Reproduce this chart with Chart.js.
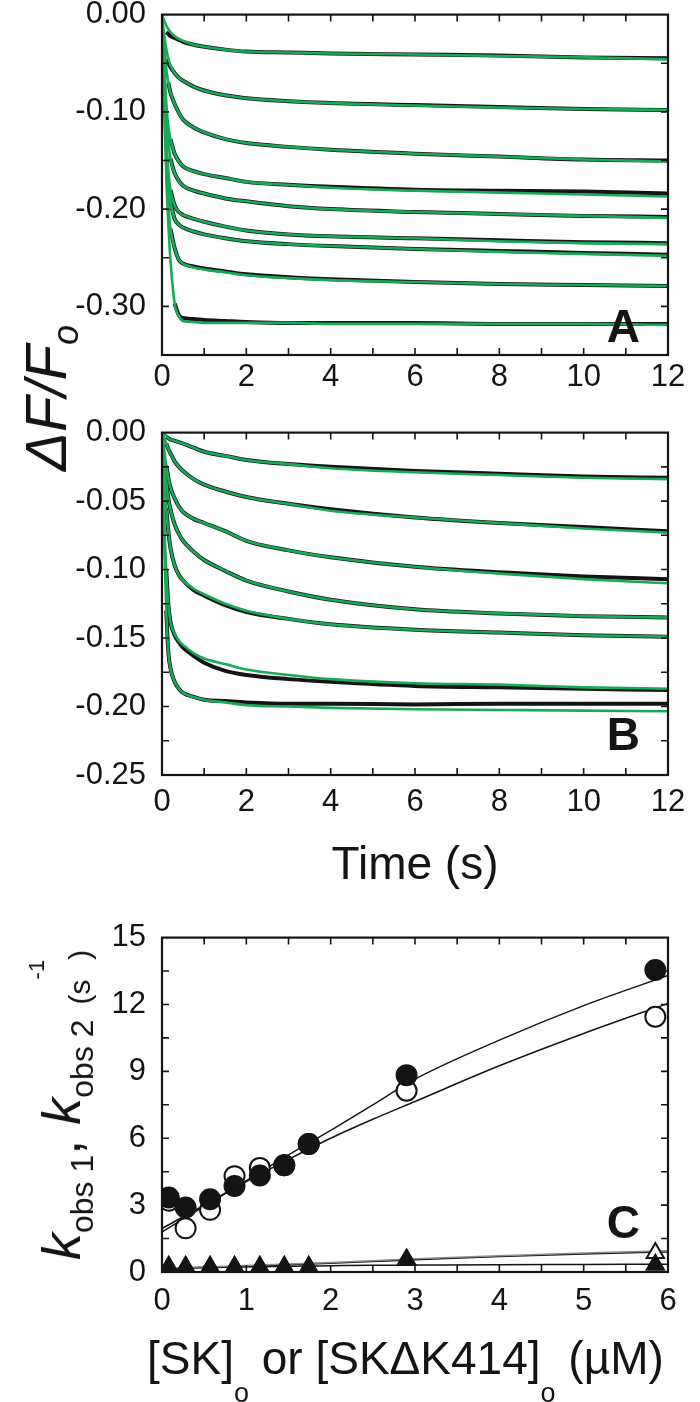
<!DOCTYPE html>
<html>
<head>
<meta charset="utf-8">
<script src="https://cdn.jsdelivr.net/npm/chart.js@4.4.0/dist/chart.umd.min.js"></script>
<style>
  body { margin: 0; background: #fff; }
  #page { position: relative; width: 700px; height: 1402px; overflow: hidden; background: #fff;
          font-family: "Liberation Sans", Arial, Helvetica, sans-serif; color: #141414; }
  canvas { position: absolute; left: 0; }
  .lbl { position: absolute; white-space: nowrap; line-height: 1; }
  .rot { transform: translate(-50%, -50%) rotate(-90deg); }
</style>
</head>
<body>
<div id="page">
  <canvas id="chartA" width="700" height="420" style="top:-20px"></canvas>
  <canvas id="chartB" width="700" height="500" style="top:398px"></canvas>
  <canvas id="chartC" width="700" height="499" style="top:903px"></canvas>

  <div class="lbl rot" style="left:46px; top:398px; font-size:58px; font-style:italic;">ΔF/F<span style="font-size:36px; position:relative; top:12px;">o</span></div>

  <div class="lbl rot" style="left:61px; top:1105px; font-size:54px;"><i>k</i><span style="font-size:32px; position:relative; top:13px;">obs 1</span>, <i>k</i><span style="font-size:32px; position:relative; top:13px;">obs 2</span> <span style="font-size:30px; position:relative; top:10px;">(s</span><span style="font-size:22px; position:relative; top:-36px;">-1</span><span style="font-size:30px; position:relative; top:10px;">)</span></div>

  <div class="lbl" style="left:147px; top:1335px; font-size:46px;">[SK]<span style="font-size:27px; position:relative; top:28px;">o</span> or [SKΔK414]<span style="font-size:27px; position:relative; top:28px;">o</span> (µM)</div>
</div>

<script>
// time grids (s): fitted curves start at 0, recorded traces a little later
const tFit = [0, 0.05, 0.1, 0.15, 0.2, 0.3, 0.4, 0.5, 0.75, 1, 1.5, 2, 3, 4, 6, 8, 10, 12];
const tData = [0.1, 0.15, 0.2, 0.3, 0.4, 0.5, 0.75, 1, 1.5, 2, 3, 4, 6, 8, 10, 12];

// panel A - green fits
const fitA1 = [0, -0.006, -0.011, -0.015, -0.018, -0.022, -0.025, -0.027, -0.031, -0.033, -0.036, -0.038, -0.039, -0.040, -0.041, -0.0425, -0.044, -0.046];
const fitA2 = [0, -0.020, -0.035, -0.045, -0.052, -0.060, -0.065, -0.068, -0.074, -0.078, -0.083, -0.086, -0.089, -0.091, -0.0935, -0.0955, -0.097, -0.098];
const fitA3 = [0, -0.030, -0.055, -0.070, -0.080, -0.092, -0.101, -0.108, -0.116, -0.121, -0.128, -0.132, -0.136, -0.139, -0.143, -0.146, -0.149, -0.151];
const fitA4 = [0, -0.050, -0.090, -0.115, -0.128, -0.143, -0.151, -0.156, -0.161, -0.164, -0.168, -0.172, -0.175, -0.178, -0.181, -0.183, -0.185, -0.187];
const fitA5 = [0, -0.055, -0.100, -0.130, -0.148, -0.163, -0.171, -0.176, -0.181, -0.184, -0.189, -0.192, -0.197, -0.200, -0.203, -0.205, -0.207, -0.209];
const fitA6 = [0, -0.070, -0.125, -0.160, -0.180, -0.196, -0.203, -0.206, -0.210, -0.213, -0.218, -0.222, -0.226, -0.228, -0.230, -0.233, -0.235, -0.236];
const fitA7 = [0, -0.075, -0.135, -0.172, -0.193, -0.210, -0.216, -0.219, -0.223, -0.226, -0.230, -0.233, -0.236, -0.238, -0.241, -0.244, -0.246, -0.248];
const fitA8 = [0, -0.085, -0.150, -0.195, -0.220, -0.240, -0.252, -0.256, -0.260, -0.262, -0.265, -0.268, -0.271, -0.273, -0.275, -0.277, -0.278, -0.279];
const fitA9 = [0, -0.090, -0.165, -0.215, -0.252, -0.297, -0.310, -0.315, -0.316, -0.317, -0.317, -0.317, -0.317, -0.318, -0.318, -0.318, -0.318, -0.319];

// panel A - recorded traces (black)
const dataA1 = [-0.018, -0.020, -0.022, -0.024, -0.026, -0.028, -0.031, -0.033, -0.036, -0.038, -0.039, -0.040, -0.041, -0.042, -0.044, -0.045];
const dataA2 = [-0.046, -0.050, -0.054, -0.060, -0.065, -0.068, -0.074, -0.078, -0.083, -0.086, -0.089, -0.091, -0.093, -0.095, -0.097, -0.098];
const dataA3 = [null, -0.070, -0.080, -0.092, -0.101, -0.108, -0.116, -0.121, -0.128, -0.132, -0.136, -0.139, -0.143, -0.146, -0.149, -0.150];
const dataA4 = [null, null, -0.128, -0.143, -0.151, -0.156, -0.161, -0.164, -0.168, -0.172, -0.175, -0.177, -0.180, -0.181, -0.182, -0.184];
const dataA5 = [null, null, -0.148, -0.163, -0.171, -0.176, -0.181, -0.184, -0.189, -0.192, -0.197, -0.200, -0.203, -0.205, -0.207, -0.208];
const dataA6 = [null, null, -0.180, -0.196, -0.203, -0.206, -0.210, -0.213, -0.218, -0.222, -0.226, -0.228, -0.230, -0.232, -0.234, -0.235];
const dataA7 = [null, null, -0.193, -0.210, -0.216, -0.219, -0.223, -0.226, -0.230, -0.233, -0.236, -0.238, -0.241, -0.243, -0.245, -0.247];
const dataA8 = [null, null, -0.220, -0.240, -0.252, -0.256, -0.259, -0.261, -0.264, -0.267, -0.270, -0.272, -0.275, -0.277, -0.278, -0.279];
const dataA9 = [null, null, null, -0.297, -0.309, -0.312, -0.313, -0.314, -0.315, -0.316, -0.317, -0.317, -0.317, -0.318, -0.318, -0.318];

// panel B - green fits
const fitB1 = [0, -0.001, -0.002, -0.004, -0.005, -0.006, -0.007, -0.008, -0.011, -0.014, -0.017, -0.020, -0.023, -0.026, -0.029, -0.031, -0.033, -0.034];
const fitB2 = [0, -0.004, -0.008, -0.012, -0.015, -0.021, -0.025, -0.028, -0.034, -0.038, -0.043, -0.047, -0.052, -0.057, -0.062, -0.066, -0.070, -0.073];
const fitB3 = [0, -0.012, -0.024, -0.033, -0.040, -0.048, -0.054, -0.058, -0.063, -0.066, -0.072, -0.079, -0.086, -0.091, -0.098, -0.103, -0.107, -0.110];
const fitB4 = [0, -0.020, -0.036, -0.048, -0.056, -0.067, -0.074, -0.079, -0.087, -0.093, -0.101, -0.108, -0.116, -0.122, -0.129, -0.132, -0.134, -0.135];
const fitB5 = [0, -0.030, -0.055, -0.072, -0.084, -0.097, -0.104, -0.108, -0.114, -0.118, -0.125, -0.130, -0.136, -0.140, -0.144, -0.146, -0.148, -0.149];
const fitB6 = [0, -0.060, -0.100, -0.125, -0.138, -0.147, -0.152, -0.155, -0.161, -0.165, -0.169, -0.173, -0.177, -0.180, -0.183, -0.184, -0.186, -0.187];
const fitB7 = [0, -0.075, -0.130, -0.160, -0.172, -0.182, -0.187, -0.190, -0.193, -0.195, -0.197, -0.199, -0.200, -0.201, -0.202, -0.2025, -0.203, -0.2035];

// panel B - recorded traces (black)
const dataB1 = [-0.003, -0.004, -0.005, -0.006, -0.007, -0.008, -0.011, -0.014, -0.017, -0.020, -0.023, -0.025, -0.028, -0.030, -0.032, -0.033];
const dataB2 = [-0.008, -0.012, -0.015, -0.021, -0.025, -0.028, -0.034, -0.038, -0.043, -0.047, -0.052, -0.056, -0.062, -0.066, -0.069, -0.072];
const dataB3 = [-0.024, -0.033, -0.040, -0.048, -0.054, -0.058, -0.063, -0.066, -0.072, -0.079, -0.086, -0.091, -0.098, -0.102, -0.105, -0.107];
const dataB4 = [-0.036, -0.048, -0.056, -0.067, -0.074, -0.079, -0.087, -0.093, -0.101, -0.108, -0.116, -0.122, -0.129, -0.132, -0.134, -0.135];
const dataB5 = [-0.055, -0.072, -0.084, -0.097, -0.104, -0.108, -0.115, -0.119, -0.126, -0.131, -0.136, -0.140, -0.144, -0.146, -0.148, -0.149];
const dataB6 = [-0.100, -0.125, -0.138, -0.148, -0.153, -0.157, -0.163, -0.168, -0.174, -0.177, -0.180, -0.182, -0.185, -0.186, -0.187, -0.188];
const dataB7 = [-0.130, -0.160, -0.172, -0.182, -0.187, -0.190, -0.193, -0.195, -0.196, -0.197, -0.198, -0.198, -0.1985, -0.198, -0.198, -0.198];

// panel C - [SK]o (uM) and observed rates (1/s)
const concC = [0.08, 0.28, 0.57, 0.86, 1.16, 1.45, 1.74, 2.9, 5.85];
const kobs1Filled = [3.34, 2.89, 3.26, 3.86, 4.33, 4.79, 5.74, 8.83, 13.55];
const kobs1Open = [3.2, 1.96, 2.79, 4.3, 4.67, 4.79, 5.74, 8.13, 11.45];
const kobs2Filled = [0.22, 0.22, 0.22, 0.22, 0.22, 0.22, 0.22, 0.55, 0.32];
const kobs2Open = [0.22, 0.22, 0.22, 0.22, 0.22, 0.22, 0.22, 0.55, 0.85];
const fitX = [0, 0.5, 1, 1.5, 2, 2.5, 3, 4, 5, 6];
const fitUpper = [1.95, 3.0, 4.1, 5.25, 6.35, 7.5, 8.65, 10.4, 11.95, 13.3];
const fitLower = [1.8, 2.95, 4.05, 5.05, 6.0, 6.85, 7.65, 9.25, 10.7, 12.05];
const fitTriRise = [0.15, 0.2, 0.25, 0.32, 0.39, 0.47, 0.55, 0.69, 0.81, 0.9];
const fitTriGray = [0.17, 0.23, 0.29, 0.36, 0.43, 0.51, 0.59, 0.73, 0.85, 0.95];
const fitTriFlat = [0.17, 0.2, 0.23, 0.26, 0.28, 0.3, 0.31, 0.33, 0.34, 0.35];

// tick labels and tick marks
const xTicksAB = [0, 2, 4, 6, 8, 10, 12];
const xMarksAB = [1, 2, 3, 4, 5, 6, 7, 8, 9, 10, 11];
const yTicksA = [0, -0.1, -0.2, -0.3];
const yMarksA = [-0.05, -0.1, -0.15, -0.2, -0.25, -0.3];
const yTicksB = [0, -0.05, -0.1, -0.15, -0.2, -0.25];
const yMarksB = [-0.025, -0.05, -0.075, -0.1, -0.125, -0.15, -0.175, -0.2, -0.225];
const xTicksC = [0, 1, 2, 3, 4, 5, 6];
const xMarksC = [0.5, 1, 1.5, 2, 2.5, 3, 3.5, 4, 4.5, 5, 5.5];
const yTicksC = [0, 3, 6, 9, 12, 15];
const yMarksC = [1.5, 3, 4.5, 6, 7.5, 9, 10.5, 12, 13.5];

const INK = '#141414';
const GREEN = '#19aa58';
Chart.defaults.font.family = '"Liberation Sans", Arial, Helvetica, sans-serif';
Chart.defaults.color = INK;

function xy(xs, ys) {
  const pts = [];
  xs.forEach(function (x, i) {
    if (ys[i] !== null) pts.push({ x: x, y: ys[i] });
  });
  return pts;
}

// box, inward ticks on all four sides, and the panel letter
const frame = {
  id: 'frame',
  afterDatasetsDraw(chart, args, o) {
    const ctx = chart.ctx, a = chart.chartArea;
    const sx = chart.scales.x, sy = chart.scales.y;
    ctx.save();
    ctx.strokeStyle = INK;
    ctx.lineWidth = 1.6;
    ctx.beginPath();
    o.xMarks.forEach(function (v) {
      const p = sx.getPixelForValue(v);
      ctx.moveTo(p, a.bottom); ctx.lineTo(p, a.bottom - o.len);
      ctx.moveTo(p, a.top); ctx.lineTo(p, a.top + o.len);
    });
    o.yMarks.forEach(function (v) {
      const p = sy.getPixelForValue(v);
      ctx.moveTo(a.left, p); ctx.lineTo(a.left + o.len, p);
      ctx.moveTo(a.right, p); ctx.lineTo(a.right - o.len, p);
    });
    ctx.stroke();
    ctx.lineWidth = 2.2;
    ctx.strokeRect(a.left, a.top, a.right - a.left, a.bottom - a.top);
    ctx.fillStyle = INK;
    ctx.font = 'bold 46px "Liberation Sans", Arial, sans-serif';
    ctx.textAlign = 'right';
    ctx.textBaseline = 'alphabetic';
    ctx.fillText(o.letter, a.right - 28, a.bottom - o.letterUp);
    ctx.restore();
  }
};

function axis(min, max, ticks, fmt, pad, size) {
  return {
    type: 'linear',
    min: min,
    max: max,
    grid: { display: false, drawTicks: false },
    border: { display: false },
    ticks: { font: { size: 31 }, color: INK, padding: pad, autoSkip: false, maxRotation: 0, callback: fmt },
    afterBuildTicks: function (s) { s.ticks = ticks.map(function (v) { return { value: v }; }); },
    afterFit: function (s) { if (s.isHorizontal()) s.height = size; else s.width = size; }
  };
}

function fix2(v) { return Number(v).toFixed(2); }
function plain(v) { return String(v); }

function traceChart(id, fits, datas, yMin, yTicks, yMarks, xPad, xHeight, letter, letterUp, title) {
  const sets = [];
  fits.forEach(function (f) {
    sets.push({ data: xy(tFit, f), borderColor: GREEN, borderWidth: 2.6, order: 1 });
  });
  datas.forEach(function (d) {
    sets.push({ data: xy(tData, d), borderColor: INK, borderWidth: 4, order: 2 });
  });
  sets.forEach(function (s) {
    s.pointRadius = 0;
    s.fill = false;
    s.cubicInterpolationMode = 'monotone';
  });
  const xAxis = axis(0, 12, xTicksAB, plain, xPad, xHeight);
  if (title) {
    xAxis.title = { display: true, text: title, color: INK, font: { size: 46 }, padding: { top: 0, bottom: 4 } };
  }
  return new Chart(document.getElementById(id), {
    type: 'line',
    data: { datasets: sets },
    options: {
      responsive: false,
      animation: false,
      events: [],
      layout: { padding: { top: 30, right: 32, left: 0, bottom: 0 } },
      plugins: {
        legend: { display: false },
        tooltip: { enabled: false },
        frame: { xMarks: xMarksAB, yMarks: yMarks, len: 7, letter: letter, letterUp: letterUp }
      },
      scales: {
        x: xAxis,
        y: axis(yMin, 0, yTicks, fix2, 16, 162)
      }
    },
    plugins: [frame]
  });
}

traceChart('chartA',
  [fitA1, fitA2, fitA3, fitA4, fitA5, fitA6, fitA7, fitA8, fitA9],
  [dataA1, dataA2, dataA3, dataA4, dataA5, dataA6, dataA7, dataA8, dataA9],
  -0.35, yTicksA, yMarksA, 4, 45, 'A', 13, null);

traceChart('chartB',
  [fitB1, fitB2, fitB3, fitB4, fitB5, fitB6, fitB7],
  [dataB1, dataB2, dataB3, dataB4, dataB5, dataB6, dataB7],
  -0.25, yTicksB, yMarksB, 9, 123, 'B', 25, 'Time (s)');

// panel C
function fitLine(ys, color) {
  return { data: xy(fitX, ys), showLine: true, borderColor: color, borderWidth: 1.5, pointRadius: 0,
           cubicInterpolationMode: 'monotone', fill: false, order: 10 };
}
function marks(ys, style, filled, order) {
  return { data: xy(concC, ys), showLine: false, pointStyle: style, pointRadius: style === 'triangle' ? 10 : 10,
           pointBorderWidth: 2, pointBorderColor: INK, pointBackgroundColor: filled ? INK : '#fff', order: order };
}

new Chart(document.getElementById('chartC'), {
  type: 'scatter',
  data: {
    datasets: [
      fitLine(fitUpper, INK),
      fitLine(fitLower, INK),
      fitLine(fitTriGray, '#8c8c8c'),
      fitLine(fitTriRise, INK),
      fitLine(fitTriFlat, INK),
      marks(kobs2Open, 'triangle', false, 5),
      marks(kobs2Filled, 'triangle', true, 4),
      marks(kobs1Open, 'circle', false, 3),
      marks(kobs1Filled, 'circle', true, 2)
    ]
  },
  options: {
    responsive: false,
    animation: false,
    events: [],
    layout: { padding: { top: 30, right: 32, left: 0, bottom: 0 } },
    plugins: {
      legend: { display: false },
      tooltip: { enabled: false },
      frame: { xMarks: xMarksC, yMarks: yMarksC, len: 7, letter: 'C', letterUp: 34 }
    },
    scales: {
      x: axis(0, 6, xTicksC, plain, 11, 130),
      y: axis(0, 15, yTicksC, plain, 16, 162)
    }
  },
  plugins: [frame]
});
</script>
</body>
</html>
